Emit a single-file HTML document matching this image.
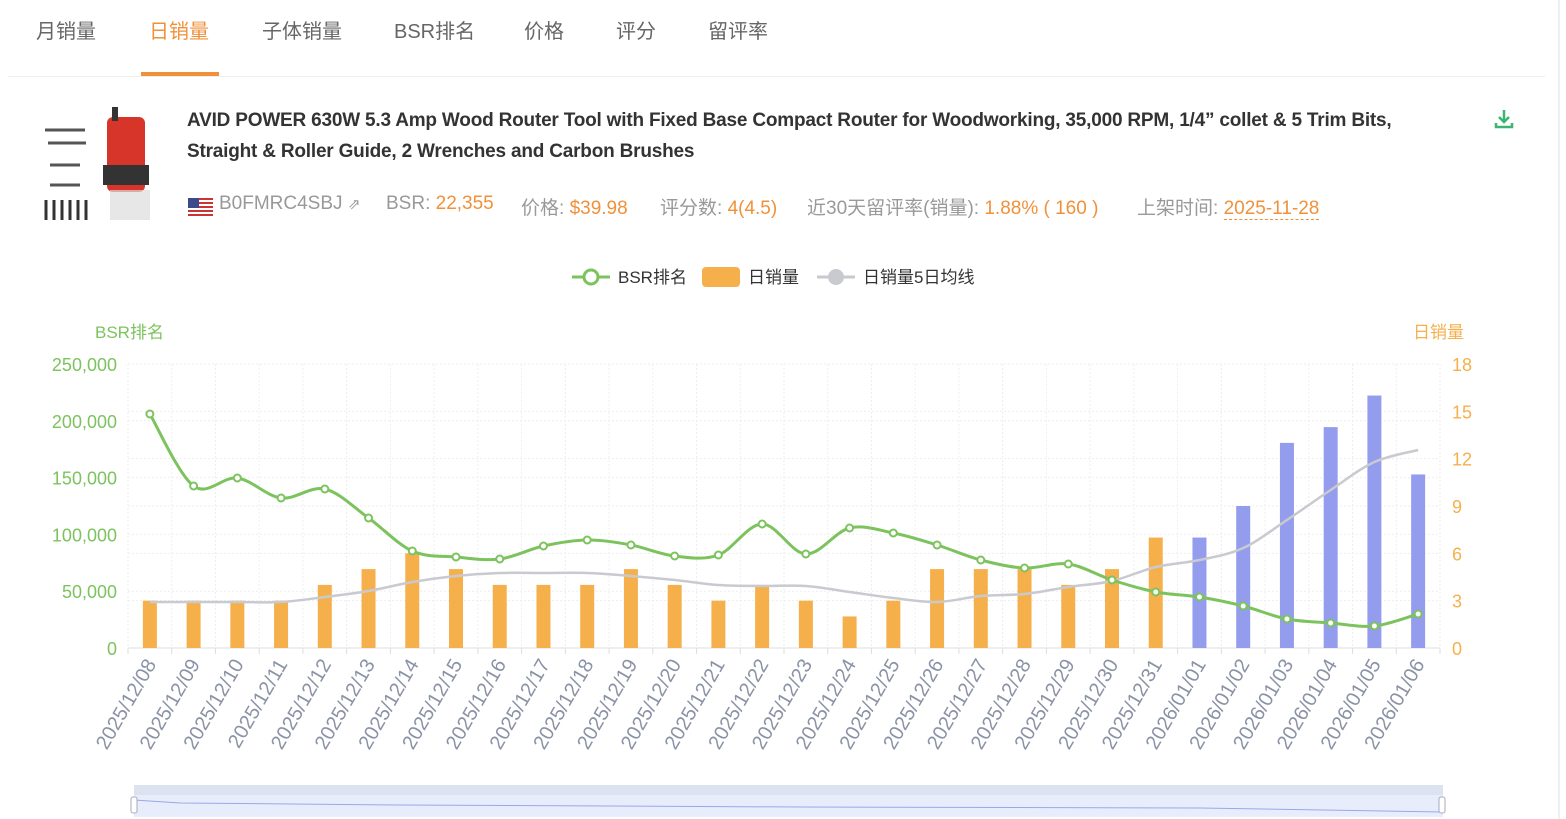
<!DOCTYPE html>
<html><head><meta charset="utf-8">
<style>
body{margin:0;width:1566px;height:819px;background:#fff;font-family:"Liberation Sans","Noto Sans CJK SC",sans-serif;position:relative;overflow:hidden}
.a{position:absolute;white-space:nowrap}
.tab{font-size:20px;color:#666;top:15px}
.g{color:#999}.o{color:#f0913a}
.info{top:193px;font-size:19px}
</style></head><body>
<div class="a tab" style="left:36px">月销量</div>
<div class="a tab" style="left:149px;color:#f0913a">日销量</div>
<div class="a tab" style="left:262px">子体销量</div>
<div class="a tab" style="left:394px">BSR排名</div>
<div class="a tab" style="left:524px">价格</div>
<div class="a tab" style="left:616px">评分</div>
<div class="a tab" style="left:708px">留评率</div>
<div class="a" style="left:141px;top:72px;width:78px;height:4px;background:#f0913a"></div>
<div class="a" style="left:8px;top:76px;width:1537px;height:1px;background:#eee"></div>
<div class="a" style="left:1558px;top:0;width:2px;height:819px;background:#f0f0f0"></div>
<svg class="a" style="left:40px;top:105px" width="112" height="120">
<rect x="67" y="12" width="38" height="75" rx="6" fill="#d8352a"/>
<rect x="72" y="2" width="6" height="14" fill="#333"/>
<rect x="63" y="60" width="46" height="20" fill="#333"/>
<rect x="70" y="85" width="40" height="30" fill="#ddd" opacity=".7"/>
<path d="M5 25h40M8 38h38M10 60h30M10 80h30" stroke="#555" stroke-width="3"/>
<path d="M6 95v20M14 95v20M22 95v20M30 95v20M38 95v20M46 95v20" stroke="#333" stroke-width="3"/>
</svg>
<div class="a" style="left:187px;top:105px;font-size:19px;font-weight:bold;color:#333;line-height:31px;width:1240px;white-space:normal;letter-spacing:-0.2px">AVID POWER 630W 5.3 Amp Wood Router Tool with Fixed Base Compact Router for Woodworking, 35,000 RPM, 1/4” collet &amp; 5 Trim Bits, Straight &amp; Roller Guide, 2 Wrenches and Carbon Brushes</div>
<svg class="a" style="left:1493px;top:108px" width="22" height="22"><path d="M11 2v11M6 9l5 5 5-5M3 15v4h16v-4" stroke="#3cb371" stroke-width="2.5" fill="none"/></svg>
<svg class="a" style="left:188px;top:198px" width="25" height="18"><rect width="25" height="18" fill="#fff"/><g fill="#c33"><rect y="0" width="25" height="2"/><rect y="4" width="25" height="2"/><rect y="8" width="25" height="2"/><rect y="12" width="25" height="2"/><rect y="16" width="25" height="2"/></g><rect width="11" height="10" fill="#3a4a8a"/></svg>
<div class="a info g" style="left:219px">B0FMRC4SBJ <span style="font-size:15px">⇗</span></div>
<div class="a info" style="left:386px"><span class="g">BSR: </span><span class="o">22,355</span></div>
<div class="a info" style="left:521px"><span class="g">价格: </span><span class="o">$39.98</span></div>
<div class="a info" style="left:660px"><span class="g">评分数: </span><span class="o">4(4.5)</span></div>
<div class="a info" style="left:807px"><span class="g">近30天留评率(销量): </span><span class="o">1.88% ( 160 )</span></div>
<div class="a info" style="left:1137px"><span class="g">上架时间: </span><span class="o" style="border-bottom:1px dashed #f0913a">2025-11-28</span></div>
<svg id="c" class="a" style="left:0;top:0" width="1566" height="819"></svg>
<script>
var s=document.getElementById('c'),h='';
var X0=128,X1=1440,Y0=648,Yt=364,bw=(X1-X0)/30;
function cx(i){return X0+bw*(i+.5)}
h+='<path d="M572 277h38" stroke="#7cc35e" stroke-width="3"/><circle cx="591" cy="277" r="7" fill="#fff" stroke="#7cc35e" stroke-width="3"/>';
h+='<text x="618" y="283" font-size="17" fill="#333">BSR排名</text>';
h+='<rect x="702" y="267" width="38" height="20" rx="4" fill="#f5b04b"/><text x="748" y="283" font-size="17" fill="#333">日销量</text>';
h+='<path d="M817 277h38" stroke="#c8cad0" stroke-width="3"/><circle cx="836" cy="277" r="8" fill="#c8cad0"/><text x="863" y="283" font-size="17" fill="#333">日销量5日均线</text>';
h+='<text x="95" y="338" font-size="17" fill="#7cc35e">BSR排名</text><text x="1413" y="338" font-size="17" fill="#f5b04b">日销量</text>';
for(var k=0;k<=6;k++){var y=Y0-k*(Y0-Yt)/6;h+='<line x1="'+X0+'" x2="'+X1+'" y1="'+y+'" y2="'+y+'" stroke="#eee" stroke-dasharray="2,2"/>';h+='<text x="1452" y="'+(y+7)+'" font-size="18" fill="#f5b04b">'+(k*3)+'</text>';}
for(var k=0;k<=5;k++){var y=Y0-k*(Y0-Yt)/5;h+='<line x1="'+X0+'" x2="'+X1+'" y1="'+y+'" y2="'+y+'" stroke="#eee" stroke-dasharray="2,2"/>';h+='<text x="117" y="'+(y+7)+'" font-size="18" fill="#7cc35e" text-anchor="end">'+(k?(k*50)+',000':'0')+'</text>';}
for(var i=0;i<=30;i++){var x=X0+bw*i;h+='<line x1="'+x+'" x2="'+x+'" y1="'+Yt+'" y2="'+Y0+'" stroke="#eee" stroke-dasharray="2,2"/><line x1="'+x+'" x2="'+x+'" y1="'+Y0+'" y2="'+(Y0+6)+'" stroke="#ddd"/>';}
h+='<line x1="'+X0+'" x2="'+X1+'" y1="'+Y0+'" y2="'+Y0+'" stroke="#ddd"/>';
var bars=[3,3,3,3,4,5,6,5,4,4,4,5,4,3,4,3,2,3,5,5,5,4,5,7,7,9,13,14,16,11];
var u=(Y0-Yt)/18;
var dates=[];for(var d=8;d<=31;d++)dates.push('2025/12/'+(d<10?'0'+d:d));for(var d=1;d<=6;d++)dates.push('2026/01/0'+d);
bars.forEach(function(v,i){h+='<rect x="'+(cx(i)-7)+'" y="'+(Y0-v*u)+'" width="14" height="'+v*u+'" fill="'+(i>=24?'#949ced':'#f5b04b')+'"/>';
h+='<text transform="translate('+(cx(i)+7)+',664) rotate(-60)" font-size="20" fill="#8a92a6" text-anchor="end">'+dates[i]+'</text>';});
function path(pts){var p='M'+pts[0][0]+' '+pts[0][1];for(var i=0;i<pts.length-1;i++){var a=pts[i-1]||pts[i],b=pts[i],c=pts[i+1],d=pts[i+2]||c;
p+=' C'+(b[0]+(c[0]-a[0])/6)+' '+(b[1]+(c[1]-a[1])/6)+' '+(c[0]-(d[0]-b[0])/6)+' '+(c[1]-(d[1]-b[1])/6)+' '+c[0]+' '+c[1];}return p;}
var avg=[602,602,602,602,597,591,582,576,573,573,573,576,580,585,586,586,592,598,602,596,594,587,581,575,567,560,548,520,490,462];
avg[29]=450;avg[28]=462;avg[27]=490;avg[26]=520;avg[25]=548;avg[24]=560;avg[23]=567;
h+='<path d="'+path(avg.map(function(y,i){return[cx(i),y]}))+'" fill="none" stroke="#c8cad0" stroke-width="2.5"/>';
var bsr=[414,486,478,498,489,518,551,557,559,546,540,545,556,555,524,554,528,533,545,560,568,564,580,592,597,606,619,623,626,614];
var bp=bsr.map(function(y,i){return[cx(i),y]});
h+='<path d="'+path(bp)+'" fill="none" stroke="#7cc35e" stroke-width="3"/>';
bp.forEach(function(p){h+='<circle cx="'+p[0]+'" cy="'+p[1]+'" r="3.5" fill="#fff" stroke="#7cc35e" stroke-width="2"/>'});
h+='<rect x="134" y="785" width="1309" height="10" fill="#dde2f0"/><rect x="134" y="795" width="1309" height="22" fill="#e8edfc"/>';
h+='<path d="M134 800 L180 803 L400 805 L800 807 L1200 808 L1443 812" stroke="#9aa8e8" fill="none"/>';
h+='<rect x="131" y="797" width="6" height="16" rx="2" fill="#fff" stroke="#aab"/><rect x="1439" y="797" width="6" height="16" rx="2" fill="#fff" stroke="#aab"/>';
s.innerHTML=h;
</script>
</body></html>
